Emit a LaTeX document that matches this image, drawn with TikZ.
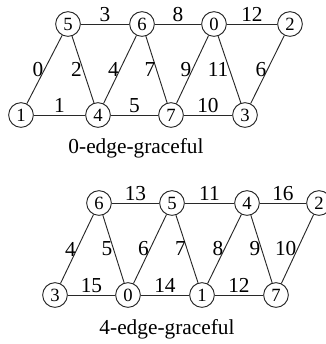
\documentclass[tikz,border=0pt]{standalone}
\usepackage{fontspec}
\setmainfont{Liberation Serif}
\usetikzlibrary{positioning}
\definecolor{inkgray}{RGB}{40,40,40}

\tikzset{
  vtx/.style={draw=inkgray,circle,line width=0.7pt,minimum size=18.5pt,inner sep=0pt,font=\fontsize{14}{14}\selectfont},
  edge/.style={draw=inkgray,line width=0.7pt},
  hlab/.style={above,inner sep=1.5pt,font=\fontsize{16}{16}\selectfont},
  dlab/.style={left,inner sep=0.5pt,font=\fontsize{16}{16}\selectfont},
  captext/.style={font=\fontsize{16}{16}\selectfont}
}

\begin{document}
\begin{tikzpicture}[x=0.75pt,y=-0.75pt]
        \useasboundingbox (0,0) rectangle (326,344);
        % 0-edge-graceful
        \foreach \n/\x in {5/68,6/142,0/214,2/290} \node[vtx] (t\n) at (\x,24) {\n};
        \foreach \n/\x in {1/21,4/98,7/171,3/245} \node[vtx] (t\n) at (\x,115) {\n};
        \foreach \a/\b/\w in {5/6/3,6/0/8,0/2/12,1/4/1,4/7/5,7/3/10} \draw[edge] (t\a) -- node[hlab] {\w} (t\b);
        \foreach \a/\b/\w in {1/5/0,5/4/2,4/6/4,6/7/7,7/0/9,0/3/11,3/2/6} \draw[edge] (t\a) -- node[dlab] {\w} (t\b);
        \node[captext] (tcap) at (136,148) {0-edge-graceful};
        % 4-edge-graceful
        \foreach \n/\x in {6/99,5/172,4/247,2/319} \node[vtx] (b\n) at (\x,203) {\n};
        \foreach \n/\x in {3/55,0/128,1/202,7/276} \node[vtx] (b\n) at (\x,295) {\n};
        \foreach \a/\b/\w in {6/5/13,5/4/11,4/2/16,3/0/15,0/1/14,1/7/12} \draw[edge] (b\a) -- node[hlab] {\w} (b\b);
        \foreach \a/\b/\w in {3/6/4,6/0/5,0/5/6,5/1/7,1/4/8,4/7/9,7/2/10} \draw[edge] (b\a) -- node[dlab] {\w} (b\b);
        \node[captext] (bcap) at (167,329) {4-edge-graceful};
\end{tikzpicture}
\end{document}
